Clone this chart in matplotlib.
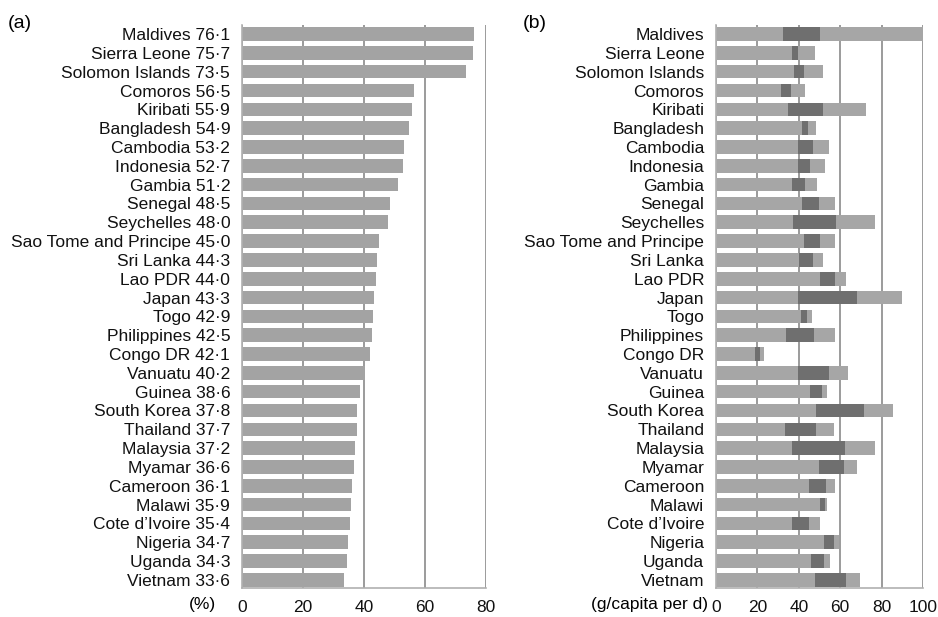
import numpy as np
import matplotlib
matplotlib.use('Agg')
import matplotlib.pyplot as plt

plt.rcParams['font.family'] = ['Liberation Sans', 'DejaVu Sans']

countries = ['Maldives', 'Sierra Leone', 'Solomon Islands', 'Comoros', 'Kiribati',
             'Bangladesh', 'Cambodia', 'Indonesia', 'Gambia', 'Senegal', 'Seychelles',
             'Sao Tome and Principe', 'Sri Lanka', 'Lao PDR', 'Japan', 'Togo',
             'Philippines', 'Congo DR', 'Vanuatu', 'Guinea', 'South Korea', 'Thailand',
             'Malaysia', 'Myamar', 'Cameroon', 'Malawi', 'Cote d\u2019Ivoire', 'Nigeria',
             'Uganda', 'Vietnam']

# (a) share in %
share_pct = [76.1, 75.7, 73.5, 56.5, 55.9, 54.9, 53.2, 52.7, 51.2, 48.5, 48.0,
             45.0, 44.3, 44.0, 43.3, 42.9, 42.5, 42.1, 40.2, 38.6, 37.8, 37.7,
             37.2, 36.6, 36.1, 35.9, 35.4, 34.7, 34.3, 33.6]

# (b) g/capita per d: start and end of the dark segment, and total length
dark_start = [32.6, 36.6, 37.9, 31.5, 35.0, 41.6, 39.8, 39.8, 36.8, 41.6, 37.4,
              42.3, 40.3, 50.3, 39.8, 41.0, 33.7, 18.9, 39.8, 45.5, 48.1, 33.2,
              36.9, 49.8, 44.8, 50.3, 36.8, 52.1, 46.1, 47.9]
dark_end = [50.0, 39.5, 42.3, 36.3, 51.9, 44.4, 46.8, 45.6, 43.1, 49.8, 58.1,
            50.3, 46.8, 57.6, 68.1, 43.9, 47.4, 21.3, 54.5, 51.0, 71.6, 48.1,
            62.1, 61.6, 53.1, 52.7, 45.0, 56.8, 52.4, 62.7]
total = [100.0, 47.7, 51.9, 43.0, 72.6, 48.4, 54.4, 52.7, 49.0, 57.3, 76.6,
         57.4, 51.9, 62.9, 89.8, 46.3, 57.7, 23.1, 63.9, 53.7, 85.6, 56.8,
         76.6, 67.9, 57.3, 53.5, 50.2, 59.5, 55.3, 69.7]

light = '#a6a6a6'
dark = '#6f6f6f'
gridc = '#8a8a8a'
fs = 12.5

fig = plt.figure(figsize=(9.38, 6.17), dpi=100)
ax1 = fig.add_axes([242 / 938, 1 - 588 / 617, 244 / 938, 563 / 617])
ax2 = fig.add_axes([716 / 938, 1 - 588 / 617, 207 / 938, 563 / 617])

y = np.arange(len(countries))
h = 0.72

def style(ax, xmax, step):
    ax.set_xlim(0, xmax)
    ax.set_ylim(len(countries) - 1 + 0.43, -0.48)
    ax.set_xticks(np.arange(0, xmax + 1, step))
    ax.set_axisbelow(True)
    ax.grid(axis='x', color=gridc, linewidth=1.2)
    for s in ['top', 'right']:
        ax.spines[s].set_visible(False)
    for s in ['left', 'bottom']:
        ax.spines[s].set_color('#b0b0b0')
        ax.spines[s].set_linewidth(1.2)
    ax.tick_params(axis='both', length=0, labelsize=fs, colors='#111111')
    ax.tick_params(axis='y', pad=8.5)
    ax.tick_params(axis='x', pad=9)

# panel (a)
ax1.barh(y, share_pct, height=h, color='#a3a3a3')
style(ax1, 80, 20)
ax1.set_yticks(y)
ax1.set_yticklabels([f'{c} {v:.1f}'.replace('.', '\u00b7') for c, v in zip(countries, share_pct)])
ax1.annotate('(%)', xy=(0, 0), xycoords='axes fraction', xytext=(-26, -17),
             textcoords='offset pixels', ha='right', va='center', fontsize=fs)

# panel (b)
ds = np.array(dark_start)
de = np.array(dark_end)
tt = np.array(total)
ax2.barh(y, tt, height=h, color=light)
ax2.barh(y, de - ds, left=ds, height=h, color=dark)
style(ax2, 100, 20)
ax2.set_yticks(y)
ax2.set_yticklabels(countries)
ax2.annotate('(g/capita per d)', xy=(0, 0), xycoords='axes fraction', xytext=(-8, -17),
             textcoords='offset pixels', ha='right', va='center', fontsize=fs)

fig.text(8 / 938, 1 - 23 / 617, '(a)', fontsize=14, ha='left', va='center')
fig.text(523 / 938, 1 - 23 / 617, '(b)', fontsize=14, ha='left', va='center')

plt.savefig('out.png', dpi=100)
